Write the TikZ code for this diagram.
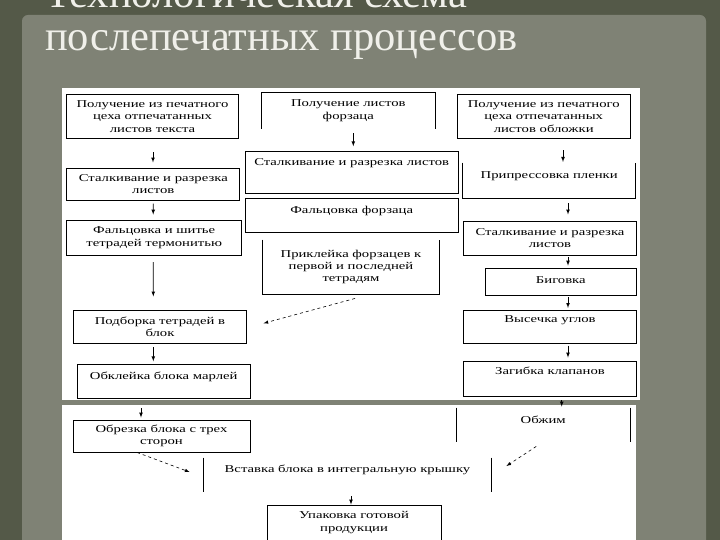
\documentclass[tikz,border=0pt]{standalone}
\usepackage{fontspec}
\setmainfont{Liberation Serif}
\newfontfamily\boxfont[FakeStretch=1.4]{Liberation Serif}
\usepackage{tikz}
\usetikzlibrary{calc,positioning}
\definecolor{slidedark}{RGB}{84,89,72}
\definecolor{slidegray}{RGB}{127,130,117}
\definecolor{titlewhite}{RGB}{240,240,234}
\tikzset{
  box/.style={draw, line width=0.9pt, fill=white, align=center, inner sep=2pt,
    font=\boxfont\fontsize{10.5}{12.4}\selectfont},
  openbox/.style={box, draw=none},
  uptext/.style 2 args={text height=#1, text depth=#2},
  arr/.style={-latex, line width=0.7pt},
  darr/.style={-latex, line width=0.6pt, dashed},
  ttl/.style={text=titlewhite, font=\fontsize{42.5}{42.5}\selectfont, inner sep=0pt, anchor=base west}
}

\begin{document}
\begin{tikzpicture}[x=1pt, y=-1pt]
    \clip (0,0) rectangle (720,540);
    % slide
    \fill[slidedark] (0,0) rectangle (720,540);
    \fill[slidegray, rounded corners=6pt] (22,15) rectangle (706,560);
    \node[ttl] (ttlA) at (45,8) {Технологическая схема};
    \node[ttl] (ttlB) at (45,51) {послепечатных процессов};
    \fill[white] (62,88) rectangle (640,400);
    \fill[white] (62,405) rectangle (636,540);

    % text sheets
    \node[box, minimum width=172pt, minimum height=44pt] (L1) at (152.5,116.3) {Получение из печатного\\цеха отпечатанных\\листов текста};
    \node[box, minimum width=173pt, minimum height=32pt] (L2) at (153.3,184.2) {Сталкивание и разрезка\\листов};
    \node[box, minimum width=175pt, minimum height=35pt] (L3) at (154.2,237.5) {Фальцовка и шитье\\тетрадей термонитью};
    \node[box, minimum width=173pt, minimum height=33pt] (L4) at (160,326.7) {Подборка тетрадей в\\блок};
    \node[box, minimum width=173pt, uptext={12.7pt}{17.3pt}] (L5) at (163.7,381.3) {Обклейка блока марлей};

    % endpapers
    \node[openbox, minimum width=173pt, minimum height=35pt] (M1) at (348.3,110.8) {Получение листов\\форзаца};
    \draw[line width=0.9pt] (M1.south west) -- (M1.north west) -- (M1.north east) -- (M1.south east);
    \node[box, minimum width=213pt, uptext={11.6pt}{26pt}] (M2) at (351.7,172.5) {Сталкивание и разрезка листов};
    \node[box, minimum width=213pt, uptext={13.7pt}{16.3pt}] (M3) at (351.7,215.3) {Фальцовка форзаца};
    \node[openbox, minimum width=176.6pt, minimum height=54pt] (M4) at (351,267) {Приклейка форзацев к\\первой и последней\\тетрадям};
    \draw[line width=0.9pt] (M4.north west) -- (M4.south west) -- (M4.south east) -- (M4.north east);

    % cover sheets
    \node[box, minimum width=172.7pt, minimum height=44pt] (R1) at (543.7,116.3) {Получение из печатного\\цеха отпечатанных\\листов обложки};
    \node[openbox, minimum width=171.7pt, uptext={13pt}{18.3pt}] (R2) at (549.2,180.7) {Припрессовка пленки};
    \draw[line width=0.9pt] (R2.north west) -- (R2.south west) -- (R2.south east) -- (R2.north east);
    \node[box, minimum width=173.4pt, minimum height=33.3pt] (R3) at (550,238.3) {Сталкивание и разрезка\\листов};
    \node[box, minimum width=151.7pt, uptext={12.7pt}{10pt}] (R4) at (560.8,281.7) {Биговка};
    \node[box, minimum width=173.4pt, uptext={10pt}{19.3pt}] (R5) at (550,326.7) {Высечка углов};
    \node[box, minimum width=173.4pt, uptext={11pt}{20pt}] (R6) at (550,379.2) {Загибка клапанов};

    % lower part
    \node[box, minimum width=177pt, minimum height=32pt] (B1) at (161.5,436) {Обрезка блока с трех\\сторон};
    \node[openbox, minimum width=173.5pt, uptext={13pt}{17pt}] (OB) at (543.2,425) {Обжим};
    \draw[line width=0.9pt] (OB.north west) -- (OB.south west);
    \draw[line width=0.9pt] (OB.north east) -- (OB.south east);
    \node[openbox, minimum width=287pt, uptext={12pt}{18pt}] (VS) at (347.5,475) {Вставка блока в интегральную крышку};
    \draw[line width=0.9pt] (VS.north west) -- (VS.south west);
    \draw[line width=0.9pt] (VS.north east) -- (VS.south east);
    \node[box, minimum width=174pt, minimum height=35pt] (PK) at (354,522.5) {Упаковка готовой\\продукции};

    \draw[arr] ($(L1.south)+(0.5,13.4)$) -- ($(L2.north)+(-0.3,-5.3)$);
    \draw[arr] ($(L2.south)+(0,3)$) -- ($(L3.north)+(-1,-5)$);
    \draw[arr] ($(L3.south)+(-1,6.7)$) -- ($(L4.north)+(-6.7,-13.3)$);
    \draw[arr] ($(L4.south)+(-6.7,3.4)$) -- ($(L5.north)+(-10.4,-2.6)$);
    \draw[arr] ($(M1.south)+(5,4.7)$) -- ($(M2.north)+(1.6,-5)$);
    \draw[arr] ($(R1.south)+(19.3,11.7)$) -- ($(R2.north)+(13.8,-0.7)$);
    \draw[arr] ($(R2.south)+(18.8,4.7)$) -- ($(R3.north)+(18,-6.7)$);
    \draw[arr] ($(R3.south)+(18,1.7)$) -- ($(R4.north)+(7.2,-2.3)$);
    \draw[arr] ($(R4.south)+(7.2,1.7)$) -- ($(R5.north)+(18,-1.7)$);
    \draw[arr] ($(R5.south)+(18,1.7)$) -- ($(R6.north)+(18,-3.7)$);
    \draw[arr] ($(L5.south)+(-22.7,9.7)$) -- ($(B1.north)+(-20.5,-2)$);
    \draw[arr] ($(R6.south)+(11.7,3.3)$) -- ($(OB.north)+(18.5,-1)$);
    \draw[arr] ($(VS.south)+(3.5,4)$) -- ($(PK.north)+(-3,0)$);

    \draw[darr] ($(M4.south)+(4,4)$) -- ($(L4.east)+(16.6,-3.4)$);
    \draw[darr] ($(B1.south)+(-24.5,0)$) -- ($(VS.west)+(-14,-3)$);
    \draw[darr] ($(OB.south)+(-7,4)$) -- ($(VS.east)+(15,-9)$);
\end{tikzpicture}
\end{document}
